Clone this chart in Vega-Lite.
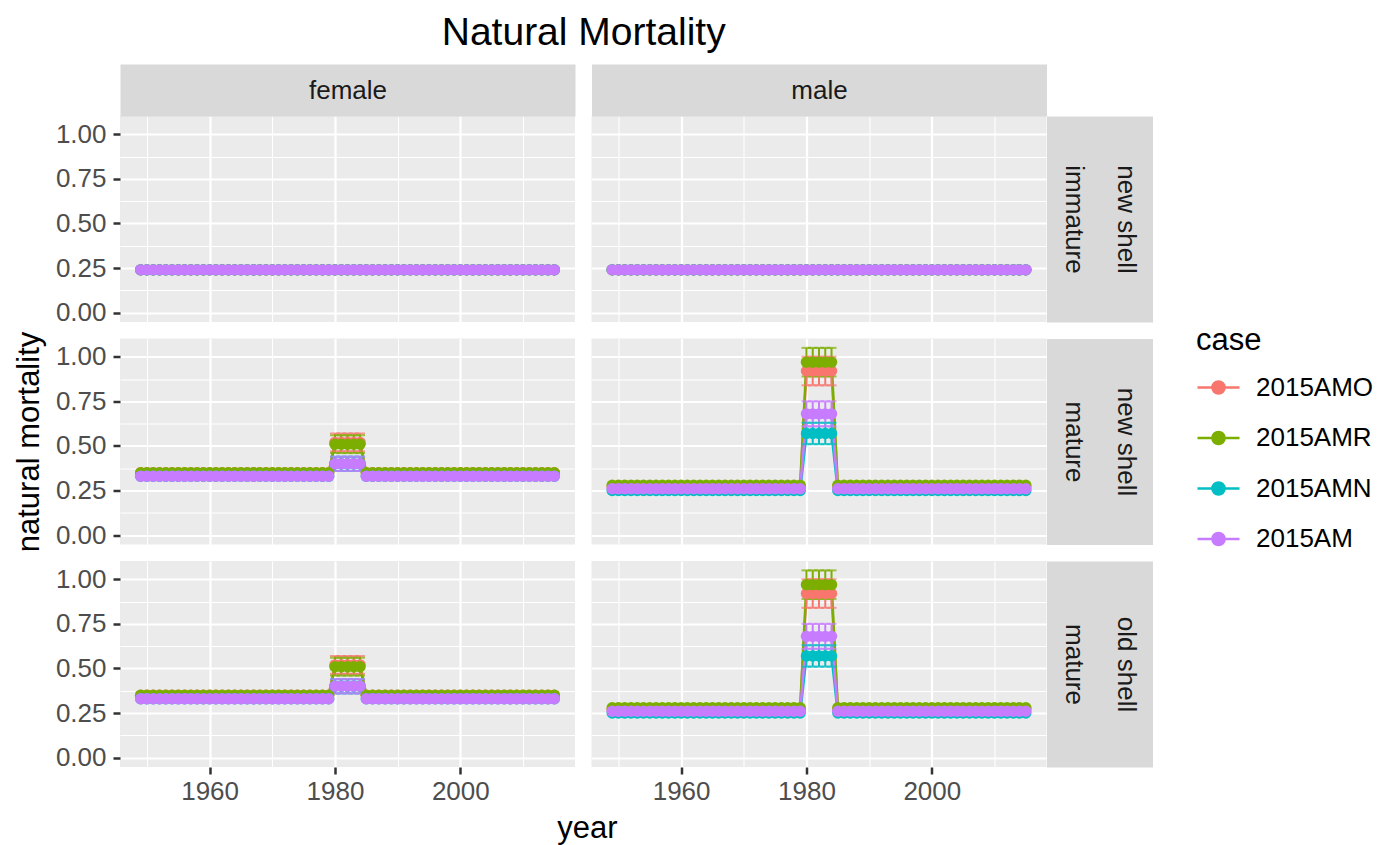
{
"$schema":"https://vega.github.io/schema/vega-lite/v6.json",
"title":{"text":"Natural Mortality","fontSize":39,"fontWeight":"normal","font":"Liberation Sans","color":"#000000","anchor":"middle","offset":24,"dx":-110},
"padding":{"left":13,"top":14,"right":0,"bottom":5},
"background":"white",
"datasets":{
"f_imm":[
{"year":1949,"2015AMO":0.24,"2015AMR":0.24,"2015AMN":0.24,"2015AM":0.24},{"year":1950,"2015AMO":0.24,"2015AMR":0.24,"2015AMN":0.24,"2015AM":0.24},{"year":1951,"2015AMO":0.24,"2015AMR":0.24,"2015AMN":0.24,"2015AM":0.24},{"year":1952,"2015AMO":0.24,"2015AMR":0.24,"2015AMN":0.24,"2015AM":0.24},{"year":1953,"2015AMO":0.24,"2015AMR":0.24,"2015AMN":0.24,"2015AM":0.24},{"year":1954,"2015AMO":0.24,"2015AMR":0.24,"2015AMN":0.24,"2015AM":0.24},{"year":1955,"2015AMO":0.24,"2015AMR":0.24,"2015AMN":0.24,"2015AM":0.24},{"year":1956,"2015AMO":0.24,"2015AMR":0.24,"2015AMN":0.24,"2015AM":0.24},{"year":1957,"2015AMO":0.24,"2015AMR":0.24,"2015AMN":0.24,"2015AM":0.24},{"year":1958,"2015AMO":0.24,"2015AMR":0.24,"2015AMN":0.24,"2015AM":0.24},{"year":1959,"2015AMO":0.24,"2015AMR":0.24,"2015AMN":0.24,"2015AM":0.24},{"year":1960,"2015AMO":0.24,"2015AMR":0.24,"2015AMN":0.24,"2015AM":0.24},{"year":1961,"2015AMO":0.24,"2015AMR":0.24,"2015AMN":0.24,"2015AM":0.24},{"year":1962,"2015AMO":0.24,"2015AMR":0.24,"2015AMN":0.24,"2015AM":0.24},{"year":1963,"2015AMO":0.24,"2015AMR":0.24,"2015AMN":0.24,"2015AM":0.24},{"year":1964,"2015AMO":0.24,"2015AMR":0.24,"2015AMN":0.24,"2015AM":0.24},{"year":1965,"2015AMO":0.24,"2015AMR":0.24,"2015AMN":0.24,"2015AM":0.24},{"year":1966,"2015AMO":0.24,"2015AMR":0.24,"2015AMN":0.24,"2015AM":0.24},{"year":1967,"2015AMO":0.24,"2015AMR":0.24,"2015AMN":0.24,"2015AM":0.24},{"year":1968,"2015AMO":0.24,"2015AMR":0.24,"2015AMN":0.24,"2015AM":0.24},{"year":1969,"2015AMO":0.24,"2015AMR":0.24,"2015AMN":0.24,"2015AM":0.24},{"year":1970,"2015AMO":0.24,"2015AMR":0.24,"2015AMN":0.24,"2015AM":0.24},{"year":1971,"2015AMO":0.24,"2015AMR":0.24,"2015AMN":0.24,"2015AM":0.24},{"year":1972,"2015AMO":0.24,"2015AMR":0.24,"2015AMN":0.24,"2015AM":0.24},{"year":1973,"2015AMO":0.24,"2015AMR":0.24,"2015AMN":0.24,"2015AM":0.24},{"year":1974,"2015AMO":0.24,"2015AMR":0.24,"2015AMN":0.24,"2015AM":0.24},{"year":1975,"2015AMO":0.24,"2015AMR":0.24,"2015AMN":0.24,"2015AM":0.24},{"year":1976,"2015AMO":0.24,"2015AMR":0.24,"2015AMN":0.24,"2015AM":0.24},{"year":1977,"2015AMO":0.24,"2015AMR":0.24,"2015AMN":0.24,"2015AM":0.24},{"year":1978,"2015AMO":0.24,"2015AMR":0.24,"2015AMN":0.24,"2015AM":0.24},{"year":1979,"2015AMO":0.24,"2015AMR":0.24,"2015AMN":0.24,"2015AM":0.24},{"year":1980,"2015AMO":0.24,"2015AMR":0.24,"2015AMN":0.24,"2015AM":0.24},{"year":1981,"2015AMO":0.24,"2015AMR":0.24,"2015AMN":0.24,"2015AM":0.24},{"year":1982,"2015AMO":0.24,"2015AMR":0.24,"2015AMN":0.24,"2015AM":0.24},{"year":1983,"2015AMO":0.24,"2015AMR":0.24,"2015AMN":0.24,"2015AM":0.24},{"year":1984,"2015AMO":0.24,"2015AMR":0.24,"2015AMN":0.24,"2015AM":0.24},{"year":1985,"2015AMO":0.24,"2015AMR":0.24,"2015AMN":0.24,"2015AM":0.24},{"year":1986,"2015AMO":0.24,"2015AMR":0.24,"2015AMN":0.24,"2015AM":0.24},{"year":1987,"2015AMO":0.24,"2015AMR":0.24,"2015AMN":0.24,"2015AM":0.24},{"year":1988,"2015AMO":0.24,"2015AMR":0.24,"2015AMN":0.24,"2015AM":0.24},{"year":1989,"2015AMO":0.24,"2015AMR":0.24,"2015AMN":0.24,"2015AM":0.24},{"year":1990,"2015AMO":0.24,"2015AMR":0.24,"2015AMN":0.24,"2015AM":0.24},{"year":1991,"2015AMO":0.24,"2015AMR":0.24,"2015AMN":0.24,"2015AM":0.24},{"year":1992,"2015AMO":0.24,"2015AMR":0.24,"2015AMN":0.24,"2015AM":0.24},{"year":1993,"2015AMO":0.24,"2015AMR":0.24,"2015AMN":0.24,"2015AM":0.24},{"year":1994,"2015AMO":0.24,"2015AMR":0.24,"2015AMN":0.24,"2015AM":0.24},{"year":1995,"2015AMO":0.24,"2015AMR":0.24,"2015AMN":0.24,"2015AM":0.24},{"year":1996,"2015AMO":0.24,"2015AMR":0.24,"2015AMN":0.24,"2015AM":0.24},{"year":1997,"2015AMO":0.24,"2015AMR":0.24,"2015AMN":0.24,"2015AM":0.24},{"year":1998,"2015AMO":0.24,"2015AMR":0.24,"2015AMN":0.24,"2015AM":0.24},{"year":1999,"2015AMO":0.24,"2015AMR":0.24,"2015AMN":0.24,"2015AM":0.24},{"year":2000,"2015AMO":0.24,"2015AMR":0.24,"2015AMN":0.24,"2015AM":0.24},{"year":2001,"2015AMO":0.24,"2015AMR":0.24,"2015AMN":0.24,"2015AM":0.24},{"year":2002,"2015AMO":0.24,"2015AMR":0.24,"2015AMN":0.24,"2015AM":0.24},{"year":2003,"2015AMO":0.24,"2015AMR":0.24,"2015AMN":0.24,"2015AM":0.24},{"year":2004,"2015AMO":0.24,"2015AMR":0.24,"2015AMN":0.24,"2015AM":0.24},{"year":2005,"2015AMO":0.24,"2015AMR":0.24,"2015AMN":0.24,"2015AM":0.24},{"year":2006,"2015AMO":0.24,"2015AMR":0.24,"2015AMN":0.24,"2015AM":0.24},{"year":2007,"2015AMO":0.24,"2015AMR":0.24,"2015AMN":0.24,"2015AM":0.24},{"year":2008,"2015AMO":0.24,"2015AMR":0.24,"2015AMN":0.24,"2015AM":0.24},{"year":2009,"2015AMO":0.24,"2015AMR":0.24,"2015AMN":0.24,"2015AM":0.24},{"year":2010,"2015AMO":0.24,"2015AMR":0.24,"2015AMN":0.24,"2015AM":0.24},{"year":2011,"2015AMO":0.24,"2015AMR":0.24,"2015AMN":0.24,"2015AM":0.24},{"year":2012,"2015AMO":0.24,"2015AMR":0.24,"2015AMN":0.24,"2015AM":0.24},{"year":2013,"2015AMO":0.24,"2015AMR":0.24,"2015AMN":0.24,"2015AM":0.24},{"year":2014,"2015AMO":0.24,"2015AMR":0.24,"2015AMN":0.24,"2015AM":0.24},{"year":2015,"2015AMO":0.24,"2015AMR":0.24,"2015AMN":0.24,"2015AM":0.24}],
"m_imm":[
{"year":1949,"2015AMO":0.24,"2015AMR":0.24,"2015AMN":0.24,"2015AM":0.24},{"year":1950,"2015AMO":0.24,"2015AMR":0.24,"2015AMN":0.24,"2015AM":0.24},{"year":1951,"2015AMO":0.24,"2015AMR":0.24,"2015AMN":0.24,"2015AM":0.24},{"year":1952,"2015AMO":0.24,"2015AMR":0.24,"2015AMN":0.24,"2015AM":0.24},{"year":1953,"2015AMO":0.24,"2015AMR":0.24,"2015AMN":0.24,"2015AM":0.24},{"year":1954,"2015AMO":0.24,"2015AMR":0.24,"2015AMN":0.24,"2015AM":0.24},{"year":1955,"2015AMO":0.24,"2015AMR":0.24,"2015AMN":0.24,"2015AM":0.24},{"year":1956,"2015AMO":0.24,"2015AMR":0.24,"2015AMN":0.24,"2015AM":0.24},{"year":1957,"2015AMO":0.24,"2015AMR":0.24,"2015AMN":0.24,"2015AM":0.24},{"year":1958,"2015AMO":0.24,"2015AMR":0.24,"2015AMN":0.24,"2015AM":0.24},{"year":1959,"2015AMO":0.24,"2015AMR":0.24,"2015AMN":0.24,"2015AM":0.24},{"year":1960,"2015AMO":0.24,"2015AMR":0.24,"2015AMN":0.24,"2015AM":0.24},{"year":1961,"2015AMO":0.24,"2015AMR":0.24,"2015AMN":0.24,"2015AM":0.24},{"year":1962,"2015AMO":0.24,"2015AMR":0.24,"2015AMN":0.24,"2015AM":0.24},{"year":1963,"2015AMO":0.24,"2015AMR":0.24,"2015AMN":0.24,"2015AM":0.24},{"year":1964,"2015AMO":0.24,"2015AMR":0.24,"2015AMN":0.24,"2015AM":0.24},{"year":1965,"2015AMO":0.24,"2015AMR":0.24,"2015AMN":0.24,"2015AM":0.24},{"year":1966,"2015AMO":0.24,"2015AMR":0.24,"2015AMN":0.24,"2015AM":0.24},{"year":1967,"2015AMO":0.24,"2015AMR":0.24,"2015AMN":0.24,"2015AM":0.24},{"year":1968,"2015AMO":0.24,"2015AMR":0.24,"2015AMN":0.24,"2015AM":0.24},{"year":1969,"2015AMO":0.24,"2015AMR":0.24,"2015AMN":0.24,"2015AM":0.24},{"year":1970,"2015AMO":0.24,"2015AMR":0.24,"2015AMN":0.24,"2015AM":0.24},{"year":1971,"2015AMO":0.24,"2015AMR":0.24,"2015AMN":0.24,"2015AM":0.24},{"year":1972,"2015AMO":0.24,"2015AMR":0.24,"2015AMN":0.24,"2015AM":0.24},{"year":1973,"2015AMO":0.24,"2015AMR":0.24,"2015AMN":0.24,"2015AM":0.24},{"year":1974,"2015AMO":0.24,"2015AMR":0.24,"2015AMN":0.24,"2015AM":0.24},{"year":1975,"2015AMO":0.24,"2015AMR":0.24,"2015AMN":0.24,"2015AM":0.24},{"year":1976,"2015AMO":0.24,"2015AMR":0.24,"2015AMN":0.24,"2015AM":0.24},{"year":1977,"2015AMO":0.24,"2015AMR":0.24,"2015AMN":0.24,"2015AM":0.24},{"year":1978,"2015AMO":0.24,"2015AMR":0.24,"2015AMN":0.24,"2015AM":0.24},{"year":1979,"2015AMO":0.24,"2015AMR":0.24,"2015AMN":0.24,"2015AM":0.24},{"year":1980,"2015AMO":0.24,"2015AMR":0.24,"2015AMN":0.24,"2015AM":0.24},{"year":1981,"2015AMO":0.24,"2015AMR":0.24,"2015AMN":0.24,"2015AM":0.24},{"year":1982,"2015AMO":0.24,"2015AMR":0.24,"2015AMN":0.24,"2015AM":0.24},{"year":1983,"2015AMO":0.24,"2015AMR":0.24,"2015AMN":0.24,"2015AM":0.24},{"year":1984,"2015AMO":0.24,"2015AMR":0.24,"2015AMN":0.24,"2015AM":0.24},{"year":1985,"2015AMO":0.24,"2015AMR":0.24,"2015AMN":0.24,"2015AM":0.24},{"year":1986,"2015AMO":0.24,"2015AMR":0.24,"2015AMN":0.24,"2015AM":0.24},{"year":1987,"2015AMO":0.24,"2015AMR":0.24,"2015AMN":0.24,"2015AM":0.24},{"year":1988,"2015AMO":0.24,"2015AMR":0.24,"2015AMN":0.24,"2015AM":0.24},{"year":1989,"2015AMO":0.24,"2015AMR":0.24,"2015AMN":0.24,"2015AM":0.24},{"year":1990,"2015AMO":0.24,"2015AMR":0.24,"2015AMN":0.24,"2015AM":0.24},{"year":1991,"2015AMO":0.24,"2015AMR":0.24,"2015AMN":0.24,"2015AM":0.24},{"year":1992,"2015AMO":0.24,"2015AMR":0.24,"2015AMN":0.24,"2015AM":0.24},{"year":1993,"2015AMO":0.24,"2015AMR":0.24,"2015AMN":0.24,"2015AM":0.24},{"year":1994,"2015AMO":0.24,"2015AMR":0.24,"2015AMN":0.24,"2015AM":0.24},{"year":1995,"2015AMO":0.24,"2015AMR":0.24,"2015AMN":0.24,"2015AM":0.24},{"year":1996,"2015AMO":0.24,"2015AMR":0.24,"2015AMN":0.24,"2015AM":0.24},{"year":1997,"2015AMO":0.24,"2015AMR":0.24,"2015AMN":0.24,"2015AM":0.24},{"year":1998,"2015AMO":0.24,"2015AMR":0.24,"2015AMN":0.24,"2015AM":0.24},{"year":1999,"2015AMO":0.24,"2015AMR":0.24,"2015AMN":0.24,"2015AM":0.24},{"year":2000,"2015AMO":0.24,"2015AMR":0.24,"2015AMN":0.24,"2015AM":0.24},{"year":2001,"2015AMO":0.24,"2015AMR":0.24,"2015AMN":0.24,"2015AM":0.24},{"year":2002,"2015AMO":0.24,"2015AMR":0.24,"2015AMN":0.24,"2015AM":0.24},{"year":2003,"2015AMO":0.24,"2015AMR":0.24,"2015AMN":0.24,"2015AM":0.24},{"year":2004,"2015AMO":0.24,"2015AMR":0.24,"2015AMN":0.24,"2015AM":0.24},{"year":2005,"2015AMO":0.24,"2015AMR":0.24,"2015AMN":0.24,"2015AM":0.24},{"year":2006,"2015AMO":0.24,"2015AMR":0.24,"2015AMN":0.24,"2015AM":0.24},{"year":2007,"2015AMO":0.24,"2015AMR":0.24,"2015AMN":0.24,"2015AM":0.24},{"year":2008,"2015AMO":0.24,"2015AMR":0.24,"2015AMN":0.24,"2015AM":0.24},{"year":2009,"2015AMO":0.24,"2015AMR":0.24,"2015AMN":0.24,"2015AM":0.24},{"year":2010,"2015AMO":0.24,"2015AMR":0.24,"2015AMN":0.24,"2015AM":0.24},{"year":2011,"2015AMO":0.24,"2015AMR":0.24,"2015AMN":0.24,"2015AM":0.24},{"year":2012,"2015AMO":0.24,"2015AMR":0.24,"2015AMN":0.24,"2015AM":0.24},{"year":2013,"2015AMO":0.24,"2015AMR":0.24,"2015AMN":0.24,"2015AM":0.24},{"year":2014,"2015AMO":0.24,"2015AMR":0.24,"2015AMN":0.24,"2015AM":0.24},{"year":2015,"2015AMO":0.24,"2015AMR":0.24,"2015AMN":0.24,"2015AM":0.24}],
"f_mns":[
{"year":1949,"2015AMO":0.35,"2015AMR":0.35,"2015AMN":0.33,"2015AM":0.33},{"year":1950,"2015AMO":0.35,"2015AMR":0.35,"2015AMN":0.33,"2015AM":0.33},{"year":1951,"2015AMO":0.35,"2015AMR":0.35,"2015AMN":0.33,"2015AM":0.33},{"year":1952,"2015AMO":0.35,"2015AMR":0.35,"2015AMN":0.33,"2015AM":0.33},{"year":1953,"2015AMO":0.35,"2015AMR":0.35,"2015AMN":0.33,"2015AM":0.33},{"year":1954,"2015AMO":0.35,"2015AMR":0.35,"2015AMN":0.33,"2015AM":0.33},{"year":1955,"2015AMO":0.35,"2015AMR":0.35,"2015AMN":0.33,"2015AM":0.33},{"year":1956,"2015AMO":0.35,"2015AMR":0.35,"2015AMN":0.33,"2015AM":0.33},{"year":1957,"2015AMO":0.35,"2015AMR":0.35,"2015AMN":0.33,"2015AM":0.33},{"year":1958,"2015AMO":0.35,"2015AMR":0.35,"2015AMN":0.33,"2015AM":0.33},{"year":1959,"2015AMO":0.35,"2015AMR":0.35,"2015AMN":0.33,"2015AM":0.33},{"year":1960,"2015AMO":0.35,"2015AMR":0.35,"2015AMN":0.33,"2015AM":0.33},{"year":1961,"2015AMO":0.35,"2015AMR":0.35,"2015AMN":0.33,"2015AM":0.33},{"year":1962,"2015AMO":0.35,"2015AMR":0.35,"2015AMN":0.33,"2015AM":0.33},{"year":1963,"2015AMO":0.35,"2015AMR":0.35,"2015AMN":0.33,"2015AM":0.33},{"year":1964,"2015AMO":0.35,"2015AMR":0.35,"2015AMN":0.33,"2015AM":0.33},{"year":1965,"2015AMO":0.35,"2015AMR":0.35,"2015AMN":0.33,"2015AM":0.33},{"year":1966,"2015AMO":0.35,"2015AMR":0.35,"2015AMN":0.33,"2015AM":0.33},{"year":1967,"2015AMO":0.35,"2015AMR":0.35,"2015AMN":0.33,"2015AM":0.33},{"year":1968,"2015AMO":0.35,"2015AMR":0.35,"2015AMN":0.33,"2015AM":0.33},{"year":1969,"2015AMO":0.35,"2015AMR":0.35,"2015AMN":0.33,"2015AM":0.33},{"year":1970,"2015AMO":0.35,"2015AMR":0.35,"2015AMN":0.33,"2015AM":0.33},{"year":1971,"2015AMO":0.35,"2015AMR":0.35,"2015AMN":0.33,"2015AM":0.33},{"year":1972,"2015AMO":0.35,"2015AMR":0.35,"2015AMN":0.33,"2015AM":0.33},{"year":1973,"2015AMO":0.35,"2015AMR":0.35,"2015AMN":0.33,"2015AM":0.33},{"year":1974,"2015AMO":0.35,"2015AMR":0.35,"2015AMN":0.33,"2015AM":0.33},{"year":1975,"2015AMO":0.35,"2015AMR":0.35,"2015AMN":0.33,"2015AM":0.33},{"year":1976,"2015AMO":0.35,"2015AMR":0.35,"2015AMN":0.33,"2015AM":0.33},{"year":1977,"2015AMO":0.35,"2015AMR":0.35,"2015AMN":0.33,"2015AM":0.33},{"year":1978,"2015AMO":0.35,"2015AMR":0.35,"2015AMN":0.33,"2015AM":0.33},{"year":1979,"2015AMO":0.35,"2015AMR":0.35,"2015AMN":0.33,"2015AM":0.33},{"year":1980,"2015AMO":0.52,"2015AMR":0.51,"2015AMN":0.4,"2015AM":0.4},{"year":1981,"2015AMO":0.52,"2015AMR":0.51,"2015AMN":0.4,"2015AM":0.4},{"year":1982,"2015AMO":0.52,"2015AMR":0.51,"2015AMN":0.4,"2015AM":0.4},{"year":1983,"2015AMO":0.52,"2015AMR":0.51,"2015AMN":0.4,"2015AM":0.4},{"year":1984,"2015AMO":0.52,"2015AMR":0.51,"2015AMN":0.4,"2015AM":0.4},{"year":1985,"2015AMO":0.35,"2015AMR":0.35,"2015AMN":0.33,"2015AM":0.33},{"year":1986,"2015AMO":0.35,"2015AMR":0.35,"2015AMN":0.33,"2015AM":0.33},{"year":1987,"2015AMO":0.35,"2015AMR":0.35,"2015AMN":0.33,"2015AM":0.33},{"year":1988,"2015AMO":0.35,"2015AMR":0.35,"2015AMN":0.33,"2015AM":0.33},{"year":1989,"2015AMO":0.35,"2015AMR":0.35,"2015AMN":0.33,"2015AM":0.33},{"year":1990,"2015AMO":0.35,"2015AMR":0.35,"2015AMN":0.33,"2015AM":0.33},{"year":1991,"2015AMO":0.35,"2015AMR":0.35,"2015AMN":0.33,"2015AM":0.33},{"year":1992,"2015AMO":0.35,"2015AMR":0.35,"2015AMN":0.33,"2015AM":0.33},{"year":1993,"2015AMO":0.35,"2015AMR":0.35,"2015AMN":0.33,"2015AM":0.33},{"year":1994,"2015AMO":0.35,"2015AMR":0.35,"2015AMN":0.33,"2015AM":0.33},{"year":1995,"2015AMO":0.35,"2015AMR":0.35,"2015AMN":0.33,"2015AM":0.33},{"year":1996,"2015AMO":0.35,"2015AMR":0.35,"2015AMN":0.33,"2015AM":0.33},{"year":1997,"2015AMO":0.35,"2015AMR":0.35,"2015AMN":0.33,"2015AM":0.33},{"year":1998,"2015AMO":0.35,"2015AMR":0.35,"2015AMN":0.33,"2015AM":0.33},{"year":1999,"2015AMO":0.35,"2015AMR":0.35,"2015AMN":0.33,"2015AM":0.33},{"year":2000,"2015AMO":0.35,"2015AMR":0.35,"2015AMN":0.33,"2015AM":0.33},{"year":2001,"2015AMO":0.35,"2015AMR":0.35,"2015AMN":0.33,"2015AM":0.33},{"year":2002,"2015AMO":0.35,"2015AMR":0.35,"2015AMN":0.33,"2015AM":0.33},{"year":2003,"2015AMO":0.35,"2015AMR":0.35,"2015AMN":0.33,"2015AM":0.33},{"year":2004,"2015AMO":0.35,"2015AMR":0.35,"2015AMN":0.33,"2015AM":0.33},{"year":2005,"2015AMO":0.35,"2015AMR":0.35,"2015AMN":0.33,"2015AM":0.33},{"year":2006,"2015AMO":0.35,"2015AMR":0.35,"2015AMN":0.33,"2015AM":0.33},{"year":2007,"2015AMO":0.35,"2015AMR":0.35,"2015AMN":0.33,"2015AM":0.33},{"year":2008,"2015AMO":0.35,"2015AMR":0.35,"2015AMN":0.33,"2015AM":0.33},{"year":2009,"2015AMO":0.35,"2015AMR":0.35,"2015AMN":0.33,"2015AM":0.33},{"year":2010,"2015AMO":0.35,"2015AMR":0.35,"2015AMN":0.33,"2015AM":0.33},{"year":2011,"2015AMO":0.35,"2015AMR":0.35,"2015AMN":0.33,"2015AM":0.33},{"year":2012,"2015AMO":0.35,"2015AMR":0.35,"2015AMN":0.33,"2015AM":0.33},{"year":2013,"2015AMO":0.35,"2015AMR":0.35,"2015AMN":0.33,"2015AM":0.33},{"year":2014,"2015AMO":0.35,"2015AMR":0.35,"2015AMN":0.33,"2015AM":0.33},{"year":2015,"2015AMO":0.35,"2015AMR":0.35,"2015AMN":0.33,"2015AM":0.33}],
"f_mos":[
{"year":1949,"2015AMO":0.35,"2015AMR":0.35,"2015AMN":0.33,"2015AM":0.33},{"year":1950,"2015AMO":0.35,"2015AMR":0.35,"2015AMN":0.33,"2015AM":0.33},{"year":1951,"2015AMO":0.35,"2015AMR":0.35,"2015AMN":0.33,"2015AM":0.33},{"year":1952,"2015AMO":0.35,"2015AMR":0.35,"2015AMN":0.33,"2015AM":0.33},{"year":1953,"2015AMO":0.35,"2015AMR":0.35,"2015AMN":0.33,"2015AM":0.33},{"year":1954,"2015AMO":0.35,"2015AMR":0.35,"2015AMN":0.33,"2015AM":0.33},{"year":1955,"2015AMO":0.35,"2015AMR":0.35,"2015AMN":0.33,"2015AM":0.33},{"year":1956,"2015AMO":0.35,"2015AMR":0.35,"2015AMN":0.33,"2015AM":0.33},{"year":1957,"2015AMO":0.35,"2015AMR":0.35,"2015AMN":0.33,"2015AM":0.33},{"year":1958,"2015AMO":0.35,"2015AMR":0.35,"2015AMN":0.33,"2015AM":0.33},{"year":1959,"2015AMO":0.35,"2015AMR":0.35,"2015AMN":0.33,"2015AM":0.33},{"year":1960,"2015AMO":0.35,"2015AMR":0.35,"2015AMN":0.33,"2015AM":0.33},{"year":1961,"2015AMO":0.35,"2015AMR":0.35,"2015AMN":0.33,"2015AM":0.33},{"year":1962,"2015AMO":0.35,"2015AMR":0.35,"2015AMN":0.33,"2015AM":0.33},{"year":1963,"2015AMO":0.35,"2015AMR":0.35,"2015AMN":0.33,"2015AM":0.33},{"year":1964,"2015AMO":0.35,"2015AMR":0.35,"2015AMN":0.33,"2015AM":0.33},{"year":1965,"2015AMO":0.35,"2015AMR":0.35,"2015AMN":0.33,"2015AM":0.33},{"year":1966,"2015AMO":0.35,"2015AMR":0.35,"2015AMN":0.33,"2015AM":0.33},{"year":1967,"2015AMO":0.35,"2015AMR":0.35,"2015AMN":0.33,"2015AM":0.33},{"year":1968,"2015AMO":0.35,"2015AMR":0.35,"2015AMN":0.33,"2015AM":0.33},{"year":1969,"2015AMO":0.35,"2015AMR":0.35,"2015AMN":0.33,"2015AM":0.33},{"year":1970,"2015AMO":0.35,"2015AMR":0.35,"2015AMN":0.33,"2015AM":0.33},{"year":1971,"2015AMO":0.35,"2015AMR":0.35,"2015AMN":0.33,"2015AM":0.33},{"year":1972,"2015AMO":0.35,"2015AMR":0.35,"2015AMN":0.33,"2015AM":0.33},{"year":1973,"2015AMO":0.35,"2015AMR":0.35,"2015AMN":0.33,"2015AM":0.33},{"year":1974,"2015AMO":0.35,"2015AMR":0.35,"2015AMN":0.33,"2015AM":0.33},{"year":1975,"2015AMO":0.35,"2015AMR":0.35,"2015AMN":0.33,"2015AM":0.33},{"year":1976,"2015AMO":0.35,"2015AMR":0.35,"2015AMN":0.33,"2015AM":0.33},{"year":1977,"2015AMO":0.35,"2015AMR":0.35,"2015AMN":0.33,"2015AM":0.33},{"year":1978,"2015AMO":0.35,"2015AMR":0.35,"2015AMN":0.33,"2015AM":0.33},{"year":1979,"2015AMO":0.35,"2015AMR":0.35,"2015AMN":0.33,"2015AM":0.33},{"year":1980,"2015AMO":0.52,"2015AMR":0.51,"2015AMN":0.4,"2015AM":0.4},{"year":1981,"2015AMO":0.52,"2015AMR":0.51,"2015AMN":0.4,"2015AM":0.4},{"year":1982,"2015AMO":0.52,"2015AMR":0.51,"2015AMN":0.4,"2015AM":0.4},{"year":1983,"2015AMO":0.52,"2015AMR":0.51,"2015AMN":0.4,"2015AM":0.4},{"year":1984,"2015AMO":0.52,"2015AMR":0.51,"2015AMN":0.4,"2015AM":0.4},{"year":1985,"2015AMO":0.35,"2015AMR":0.35,"2015AMN":0.33,"2015AM":0.33},{"year":1986,"2015AMO":0.35,"2015AMR":0.35,"2015AMN":0.33,"2015AM":0.33},{"year":1987,"2015AMO":0.35,"2015AMR":0.35,"2015AMN":0.33,"2015AM":0.33},{"year":1988,"2015AMO":0.35,"2015AMR":0.35,"2015AMN":0.33,"2015AM":0.33},{"year":1989,"2015AMO":0.35,"2015AMR":0.35,"2015AMN":0.33,"2015AM":0.33},{"year":1990,"2015AMO":0.35,"2015AMR":0.35,"2015AMN":0.33,"2015AM":0.33},{"year":1991,"2015AMO":0.35,"2015AMR":0.35,"2015AMN":0.33,"2015AM":0.33},{"year":1992,"2015AMO":0.35,"2015AMR":0.35,"2015AMN":0.33,"2015AM":0.33},{"year":1993,"2015AMO":0.35,"2015AMR":0.35,"2015AMN":0.33,"2015AM":0.33},{"year":1994,"2015AMO":0.35,"2015AMR":0.35,"2015AMN":0.33,"2015AM":0.33},{"year":1995,"2015AMO":0.35,"2015AMR":0.35,"2015AMN":0.33,"2015AM":0.33},{"year":1996,"2015AMO":0.35,"2015AMR":0.35,"2015AMN":0.33,"2015AM":0.33},{"year":1997,"2015AMO":0.35,"2015AMR":0.35,"2015AMN":0.33,"2015AM":0.33},{"year":1998,"2015AMO":0.35,"2015AMR":0.35,"2015AMN":0.33,"2015AM":0.33},{"year":1999,"2015AMO":0.35,"2015AMR":0.35,"2015AMN":0.33,"2015AM":0.33},{"year":2000,"2015AMO":0.35,"2015AMR":0.35,"2015AMN":0.33,"2015AM":0.33},{"year":2001,"2015AMO":0.35,"2015AMR":0.35,"2015AMN":0.33,"2015AM":0.33},{"year":2002,"2015AMO":0.35,"2015AMR":0.35,"2015AMN":0.33,"2015AM":0.33},{"year":2003,"2015AMO":0.35,"2015AMR":0.35,"2015AMN":0.33,"2015AM":0.33},{"year":2004,"2015AMO":0.35,"2015AMR":0.35,"2015AMN":0.33,"2015AM":0.33},{"year":2005,"2015AMO":0.35,"2015AMR":0.35,"2015AMN":0.33,"2015AM":0.33},{"year":2006,"2015AMO":0.35,"2015AMR":0.35,"2015AMN":0.33,"2015AM":0.33},{"year":2007,"2015AMO":0.35,"2015AMR":0.35,"2015AMN":0.33,"2015AM":0.33},{"year":2008,"2015AMO":0.35,"2015AMR":0.35,"2015AMN":0.33,"2015AM":0.33},{"year":2009,"2015AMO":0.35,"2015AMR":0.35,"2015AMN":0.33,"2015AM":0.33},{"year":2010,"2015AMO":0.35,"2015AMR":0.35,"2015AMN":0.33,"2015AM":0.33},{"year":2011,"2015AMO":0.35,"2015AMR":0.35,"2015AMN":0.33,"2015AM":0.33},{"year":2012,"2015AMO":0.35,"2015AMR":0.35,"2015AMN":0.33,"2015AM":0.33},{"year":2013,"2015AMO":0.35,"2015AMR":0.35,"2015AMN":0.33,"2015AM":0.33},{"year":2014,"2015AMO":0.35,"2015AMR":0.35,"2015AMN":0.33,"2015AM":0.33},{"year":2015,"2015AMO":0.35,"2015AMR":0.35,"2015AMN":0.33,"2015AM":0.33}],
"m_mns":[
{"year":1949,"2015AMO":0.27,"2015AMR":0.28,"2015AMN":0.25,"2015AM":0.26},{"year":1950,"2015AMO":0.27,"2015AMR":0.28,"2015AMN":0.25,"2015AM":0.26},{"year":1951,"2015AMO":0.27,"2015AMR":0.28,"2015AMN":0.25,"2015AM":0.26},{"year":1952,"2015AMO":0.27,"2015AMR":0.28,"2015AMN":0.25,"2015AM":0.26},{"year":1953,"2015AMO":0.27,"2015AMR":0.28,"2015AMN":0.25,"2015AM":0.26},{"year":1954,"2015AMO":0.27,"2015AMR":0.28,"2015AMN":0.25,"2015AM":0.26},{"year":1955,"2015AMO":0.27,"2015AMR":0.28,"2015AMN":0.25,"2015AM":0.26},{"year":1956,"2015AMO":0.27,"2015AMR":0.28,"2015AMN":0.25,"2015AM":0.26},{"year":1957,"2015AMO":0.27,"2015AMR":0.28,"2015AMN":0.25,"2015AM":0.26},{"year":1958,"2015AMO":0.27,"2015AMR":0.28,"2015AMN":0.25,"2015AM":0.26},{"year":1959,"2015AMO":0.27,"2015AMR":0.28,"2015AMN":0.25,"2015AM":0.26},{"year":1960,"2015AMO":0.27,"2015AMR":0.28,"2015AMN":0.25,"2015AM":0.26},{"year":1961,"2015AMO":0.27,"2015AMR":0.28,"2015AMN":0.25,"2015AM":0.26},{"year":1962,"2015AMO":0.27,"2015AMR":0.28,"2015AMN":0.25,"2015AM":0.26},{"year":1963,"2015AMO":0.27,"2015AMR":0.28,"2015AMN":0.25,"2015AM":0.26},{"year":1964,"2015AMO":0.27,"2015AMR":0.28,"2015AMN":0.25,"2015AM":0.26},{"year":1965,"2015AMO":0.27,"2015AMR":0.28,"2015AMN":0.25,"2015AM":0.26},{"year":1966,"2015AMO":0.27,"2015AMR":0.28,"2015AMN":0.25,"2015AM":0.26},{"year":1967,"2015AMO":0.27,"2015AMR":0.28,"2015AMN":0.25,"2015AM":0.26},{"year":1968,"2015AMO":0.27,"2015AMR":0.28,"2015AMN":0.25,"2015AM":0.26},{"year":1969,"2015AMO":0.27,"2015AMR":0.28,"2015AMN":0.25,"2015AM":0.26},{"year":1970,"2015AMO":0.27,"2015AMR":0.28,"2015AMN":0.25,"2015AM":0.26},{"year":1971,"2015AMO":0.27,"2015AMR":0.28,"2015AMN":0.25,"2015AM":0.26},{"year":1972,"2015AMO":0.27,"2015AMR":0.28,"2015AMN":0.25,"2015AM":0.26},{"year":1973,"2015AMO":0.27,"2015AMR":0.28,"2015AMN":0.25,"2015AM":0.26},{"year":1974,"2015AMO":0.27,"2015AMR":0.28,"2015AMN":0.25,"2015AM":0.26},{"year":1975,"2015AMO":0.27,"2015AMR":0.28,"2015AMN":0.25,"2015AM":0.26},{"year":1976,"2015AMO":0.27,"2015AMR":0.28,"2015AMN":0.25,"2015AM":0.26},{"year":1977,"2015AMO":0.27,"2015AMR":0.28,"2015AMN":0.25,"2015AM":0.26},{"year":1978,"2015AMO":0.27,"2015AMR":0.28,"2015AMN":0.25,"2015AM":0.26},{"year":1979,"2015AMO":0.27,"2015AMR":0.28,"2015AMN":0.25,"2015AM":0.26},{"year":1980,"2015AMO":0.92,"2015AMR":0.97,"2015AMN":0.57,"2015AM":0.68},{"year":1981,"2015AMO":0.92,"2015AMR":0.97,"2015AMN":0.57,"2015AM":0.68},{"year":1982,"2015AMO":0.92,"2015AMR":0.97,"2015AMN":0.57,"2015AM":0.68},{"year":1983,"2015AMO":0.92,"2015AMR":0.97,"2015AMN":0.57,"2015AM":0.68},{"year":1984,"2015AMO":0.92,"2015AMR":0.97,"2015AMN":0.57,"2015AM":0.68},{"year":1985,"2015AMO":0.27,"2015AMR":0.28,"2015AMN":0.25,"2015AM":0.26},{"year":1986,"2015AMO":0.27,"2015AMR":0.28,"2015AMN":0.25,"2015AM":0.26},{"year":1987,"2015AMO":0.27,"2015AMR":0.28,"2015AMN":0.25,"2015AM":0.26},{"year":1988,"2015AMO":0.27,"2015AMR":0.28,"2015AMN":0.25,"2015AM":0.26},{"year":1989,"2015AMO":0.27,"2015AMR":0.28,"2015AMN":0.25,"2015AM":0.26},{"year":1990,"2015AMO":0.27,"2015AMR":0.28,"2015AMN":0.25,"2015AM":0.26},{"year":1991,"2015AMO":0.27,"2015AMR":0.28,"2015AMN":0.25,"2015AM":0.26},{"year":1992,"2015AMO":0.27,"2015AMR":0.28,"2015AMN":0.25,"2015AM":0.26},{"year":1993,"2015AMO":0.27,"2015AMR":0.28,"2015AMN":0.25,"2015AM":0.26},{"year":1994,"2015AMO":0.27,"2015AMR":0.28,"2015AMN":0.25,"2015AM":0.26},{"year":1995,"2015AMO":0.27,"2015AMR":0.28,"2015AMN":0.25,"2015AM":0.26},{"year":1996,"2015AMO":0.27,"2015AMR":0.28,"2015AMN":0.25,"2015AM":0.26},{"year":1997,"2015AMO":0.27,"2015AMR":0.28,"2015AMN":0.25,"2015AM":0.26},{"year":1998,"2015AMO":0.27,"2015AMR":0.28,"2015AMN":0.25,"2015AM":0.26},{"year":1999,"2015AMO":0.27,"2015AMR":0.28,"2015AMN":0.25,"2015AM":0.26},{"year":2000,"2015AMO":0.27,"2015AMR":0.28,"2015AMN":0.25,"2015AM":0.26},{"year":2001,"2015AMO":0.27,"2015AMR":0.28,"2015AMN":0.25,"2015AM":0.26},{"year":2002,"2015AMO":0.27,"2015AMR":0.28,"2015AMN":0.25,"2015AM":0.26},{"year":2003,"2015AMO":0.27,"2015AMR":0.28,"2015AMN":0.25,"2015AM":0.26},{"year":2004,"2015AMO":0.27,"2015AMR":0.28,"2015AMN":0.25,"2015AM":0.26},{"year":2005,"2015AMO":0.27,"2015AMR":0.28,"2015AMN":0.25,"2015AM":0.26},{"year":2006,"2015AMO":0.27,"2015AMR":0.28,"2015AMN":0.25,"2015AM":0.26},{"year":2007,"2015AMO":0.27,"2015AMR":0.28,"2015AMN":0.25,"2015AM":0.26},{"year":2008,"2015AMO":0.27,"2015AMR":0.28,"2015AMN":0.25,"2015AM":0.26},{"year":2009,"2015AMO":0.27,"2015AMR":0.28,"2015AMN":0.25,"2015AM":0.26},{"year":2010,"2015AMO":0.27,"2015AMR":0.28,"2015AMN":0.25,"2015AM":0.26},{"year":2011,"2015AMO":0.27,"2015AMR":0.28,"2015AMN":0.25,"2015AM":0.26},{"year":2012,"2015AMO":0.27,"2015AMR":0.28,"2015AMN":0.25,"2015AM":0.26},{"year":2013,"2015AMO":0.27,"2015AMR":0.28,"2015AMN":0.25,"2015AM":0.26},{"year":2014,"2015AMO":0.27,"2015AMR":0.28,"2015AMN":0.25,"2015AM":0.26},{"year":2015,"2015AMO":0.27,"2015AMR":0.28,"2015AMN":0.25,"2015AM":0.26}],
"m_mos":[
{"year":1949,"2015AMO":0.27,"2015AMR":0.28,"2015AMN":0.25,"2015AM":0.26},{"year":1950,"2015AMO":0.27,"2015AMR":0.28,"2015AMN":0.25,"2015AM":0.26},{"year":1951,"2015AMO":0.27,"2015AMR":0.28,"2015AMN":0.25,"2015AM":0.26},{"year":1952,"2015AMO":0.27,"2015AMR":0.28,"2015AMN":0.25,"2015AM":0.26},{"year":1953,"2015AMO":0.27,"2015AMR":0.28,"2015AMN":0.25,"2015AM":0.26},{"year":1954,"2015AMO":0.27,"2015AMR":0.28,"2015AMN":0.25,"2015AM":0.26},{"year":1955,"2015AMO":0.27,"2015AMR":0.28,"2015AMN":0.25,"2015AM":0.26},{"year":1956,"2015AMO":0.27,"2015AMR":0.28,"2015AMN":0.25,"2015AM":0.26},{"year":1957,"2015AMO":0.27,"2015AMR":0.28,"2015AMN":0.25,"2015AM":0.26},{"year":1958,"2015AMO":0.27,"2015AMR":0.28,"2015AMN":0.25,"2015AM":0.26},{"year":1959,"2015AMO":0.27,"2015AMR":0.28,"2015AMN":0.25,"2015AM":0.26},{"year":1960,"2015AMO":0.27,"2015AMR":0.28,"2015AMN":0.25,"2015AM":0.26},{"year":1961,"2015AMO":0.27,"2015AMR":0.28,"2015AMN":0.25,"2015AM":0.26},{"year":1962,"2015AMO":0.27,"2015AMR":0.28,"2015AMN":0.25,"2015AM":0.26},{"year":1963,"2015AMO":0.27,"2015AMR":0.28,"2015AMN":0.25,"2015AM":0.26},{"year":1964,"2015AMO":0.27,"2015AMR":0.28,"2015AMN":0.25,"2015AM":0.26},{"year":1965,"2015AMO":0.27,"2015AMR":0.28,"2015AMN":0.25,"2015AM":0.26},{"year":1966,"2015AMO":0.27,"2015AMR":0.28,"2015AMN":0.25,"2015AM":0.26},{"year":1967,"2015AMO":0.27,"2015AMR":0.28,"2015AMN":0.25,"2015AM":0.26},{"year":1968,"2015AMO":0.27,"2015AMR":0.28,"2015AMN":0.25,"2015AM":0.26},{"year":1969,"2015AMO":0.27,"2015AMR":0.28,"2015AMN":0.25,"2015AM":0.26},{"year":1970,"2015AMO":0.27,"2015AMR":0.28,"2015AMN":0.25,"2015AM":0.26},{"year":1971,"2015AMO":0.27,"2015AMR":0.28,"2015AMN":0.25,"2015AM":0.26},{"year":1972,"2015AMO":0.27,"2015AMR":0.28,"2015AMN":0.25,"2015AM":0.26},{"year":1973,"2015AMO":0.27,"2015AMR":0.28,"2015AMN":0.25,"2015AM":0.26},{"year":1974,"2015AMO":0.27,"2015AMR":0.28,"2015AMN":0.25,"2015AM":0.26},{"year":1975,"2015AMO":0.27,"2015AMR":0.28,"2015AMN":0.25,"2015AM":0.26},{"year":1976,"2015AMO":0.27,"2015AMR":0.28,"2015AMN":0.25,"2015AM":0.26},{"year":1977,"2015AMO":0.27,"2015AMR":0.28,"2015AMN":0.25,"2015AM":0.26},{"year":1978,"2015AMO":0.27,"2015AMR":0.28,"2015AMN":0.25,"2015AM":0.26},{"year":1979,"2015AMO":0.27,"2015AMR":0.28,"2015AMN":0.25,"2015AM":0.26},{"year":1980,"2015AMO":0.92,"2015AMR":0.97,"2015AMN":0.57,"2015AM":0.68},{"year":1981,"2015AMO":0.92,"2015AMR":0.97,"2015AMN":0.57,"2015AM":0.68},{"year":1982,"2015AMO":0.92,"2015AMR":0.97,"2015AMN":0.57,"2015AM":0.68},{"year":1983,"2015AMO":0.92,"2015AMR":0.97,"2015AMN":0.57,"2015AM":0.68},{"year":1984,"2015AMO":0.92,"2015AMR":0.97,"2015AMN":0.57,"2015AM":0.68},{"year":1985,"2015AMO":0.27,"2015AMR":0.28,"2015AMN":0.25,"2015AM":0.26},{"year":1986,"2015AMO":0.27,"2015AMR":0.28,"2015AMN":0.25,"2015AM":0.26},{"year":1987,"2015AMO":0.27,"2015AMR":0.28,"2015AMN":0.25,"2015AM":0.26},{"year":1988,"2015AMO":0.27,"2015AMR":0.28,"2015AMN":0.25,"2015AM":0.26},{"year":1989,"2015AMO":0.27,"2015AMR":0.28,"2015AMN":0.25,"2015AM":0.26},{"year":1990,"2015AMO":0.27,"2015AMR":0.28,"2015AMN":0.25,"2015AM":0.26},{"year":1991,"2015AMO":0.27,"2015AMR":0.28,"2015AMN":0.25,"2015AM":0.26},{"year":1992,"2015AMO":0.27,"2015AMR":0.28,"2015AMN":0.25,"2015AM":0.26},{"year":1993,"2015AMO":0.27,"2015AMR":0.28,"2015AMN":0.25,"2015AM":0.26},{"year":1994,"2015AMO":0.27,"2015AMR":0.28,"2015AMN":0.25,"2015AM":0.26},{"year":1995,"2015AMO":0.27,"2015AMR":0.28,"2015AMN":0.25,"2015AM":0.26},{"year":1996,"2015AMO":0.27,"2015AMR":0.28,"2015AMN":0.25,"2015AM":0.26},{"year":1997,"2015AMO":0.27,"2015AMR":0.28,"2015AMN":0.25,"2015AM":0.26},{"year":1998,"2015AMO":0.27,"2015AMR":0.28,"2015AMN":0.25,"2015AM":0.26},{"year":1999,"2015AMO":0.27,"2015AMR":0.28,"2015AMN":0.25,"2015AM":0.26},{"year":2000,"2015AMO":0.27,"2015AMR":0.28,"2015AMN":0.25,"2015AM":0.26},{"year":2001,"2015AMO":0.27,"2015AMR":0.28,"2015AMN":0.25,"2015AM":0.26},{"year":2002,"2015AMO":0.27,"2015AMR":0.28,"2015AMN":0.25,"2015AM":0.26},{"year":2003,"2015AMO":0.27,"2015AMR":0.28,"2015AMN":0.25,"2015AM":0.26},{"year":2004,"2015AMO":0.27,"2015AMR":0.28,"2015AMN":0.25,"2015AM":0.26},{"year":2005,"2015AMO":0.27,"2015AMR":0.28,"2015AMN":0.25,"2015AM":0.26},{"year":2006,"2015AMO":0.27,"2015AMR":0.28,"2015AMN":0.25,"2015AM":0.26},{"year":2007,"2015AMO":0.27,"2015AMR":0.28,"2015AMN":0.25,"2015AM":0.26},{"year":2008,"2015AMO":0.27,"2015AMR":0.28,"2015AMN":0.25,"2015AM":0.26},{"year":2009,"2015AMO":0.27,"2015AMR":0.28,"2015AMN":0.25,"2015AM":0.26},{"year":2010,"2015AMO":0.27,"2015AMR":0.28,"2015AMN":0.25,"2015AM":0.26},{"year":2011,"2015AMO":0.27,"2015AMR":0.28,"2015AMN":0.25,"2015AM":0.26},{"year":2012,"2015AMO":0.27,"2015AMR":0.28,"2015AMN":0.25,"2015AM":0.26},{"year":2013,"2015AMO":0.27,"2015AMR":0.28,"2015AMN":0.25,"2015AM":0.26},{"year":2014,"2015AMO":0.27,"2015AMR":0.28,"2015AMN":0.25,"2015AM":0.26},{"year":2015,"2015AMO":0.27,"2015AMR":0.28,"2015AMN":0.25,"2015AM":0.26}],
"f_mns_err":[
{"year":1980,"case":"2015AMO","lo":0.47,"hi":0.57},{"year":1981,"case":"2015AMO","lo":0.47,"hi":0.57},{"year":1982,"case":"2015AMO","lo":0.47,"hi":0.57},{"year":1983,"case":"2015AMO","lo":0.47,"hi":0.57},{"year":1984,"case":"2015AMO","lo":0.47,"hi":0.57},
{"year":1980,"case":"2015AMR","lo":0.46,"hi":0.56},{"year":1981,"case":"2015AMR","lo":0.46,"hi":0.56},{"year":1982,"case":"2015AMR","lo":0.46,"hi":0.56},{"year":1983,"case":"2015AMR","lo":0.46,"hi":0.56},{"year":1984,"case":"2015AMR","lo":0.46,"hi":0.56},
{"year":1980,"case":"2015AMN","lo":0.36,"hi":0.44},{"year":1981,"case":"2015AMN","lo":0.36,"hi":0.44},{"year":1982,"case":"2015AMN","lo":0.36,"hi":0.44},{"year":1983,"case":"2015AMN","lo":0.36,"hi":0.44},{"year":1984,"case":"2015AMN","lo":0.36,"hi":0.44},
{"year":1980,"case":"2015AM","lo":0.36,"hi":0.44},{"year":1981,"case":"2015AM","lo":0.36,"hi":0.44},{"year":1982,"case":"2015AM","lo":0.36,"hi":0.44},{"year":1983,"case":"2015AM","lo":0.36,"hi":0.44},{"year":1984,"case":"2015AM","lo":0.36,"hi":0.44}],
"f_mos_err":[
{"year":1980,"case":"2015AMO","lo":0.47,"hi":0.57},{"year":1981,"case":"2015AMO","lo":0.47,"hi":0.57},{"year":1982,"case":"2015AMO","lo":0.47,"hi":0.57},{"year":1983,"case":"2015AMO","lo":0.47,"hi":0.57},{"year":1984,"case":"2015AMO","lo":0.47,"hi":0.57},
{"year":1980,"case":"2015AMR","lo":0.46,"hi":0.56},{"year":1981,"case":"2015AMR","lo":0.46,"hi":0.56},{"year":1982,"case":"2015AMR","lo":0.46,"hi":0.56},{"year":1983,"case":"2015AMR","lo":0.46,"hi":0.56},{"year":1984,"case":"2015AMR","lo":0.46,"hi":0.56},
{"year":1980,"case":"2015AMN","lo":0.36,"hi":0.44},{"year":1981,"case":"2015AMN","lo":0.36,"hi":0.44},{"year":1982,"case":"2015AMN","lo":0.36,"hi":0.44},{"year":1983,"case":"2015AMN","lo":0.36,"hi":0.44},{"year":1984,"case":"2015AMN","lo":0.36,"hi":0.44},
{"year":1980,"case":"2015AM","lo":0.36,"hi":0.44},{"year":1981,"case":"2015AM","lo":0.36,"hi":0.44},{"year":1982,"case":"2015AM","lo":0.36,"hi":0.44},{"year":1983,"case":"2015AM","lo":0.36,"hi":0.44},{"year":1984,"case":"2015AM","lo":0.36,"hi":0.44}],
"m_mns_err":[
{"year":1980,"case":"2015AMO","lo":0.84,"hi":1.0},{"year":1981,"case":"2015AMO","lo":0.84,"hi":1.0},{"year":1982,"case":"2015AMO","lo":0.84,"hi":1.0},{"year":1983,"case":"2015AMO","lo":0.84,"hi":1.0},{"year":1984,"case":"2015AMO","lo":0.84,"hi":1.0},
{"year":1980,"case":"2015AMR","lo":0.89,"hi":1.05},{"year":1981,"case":"2015AMR","lo":0.89,"hi":1.05},{"year":1982,"case":"2015AMR","lo":0.89,"hi":1.05},{"year":1983,"case":"2015AMR","lo":0.89,"hi":1.05},{"year":1984,"case":"2015AMR","lo":0.89,"hi":1.05},
{"year":1980,"case":"2015AMN","lo":0.51,"hi":0.63},{"year":1981,"case":"2015AMN","lo":0.51,"hi":0.63},{"year":1982,"case":"2015AMN","lo":0.51,"hi":0.63},{"year":1983,"case":"2015AMN","lo":0.51,"hi":0.63},{"year":1984,"case":"2015AMN","lo":0.51,"hi":0.63},
{"year":1980,"case":"2015AM","lo":0.61,"hi":0.75},{"year":1981,"case":"2015AM","lo":0.61,"hi":0.75},{"year":1982,"case":"2015AM","lo":0.61,"hi":0.75},{"year":1983,"case":"2015AM","lo":0.61,"hi":0.75},{"year":1984,"case":"2015AM","lo":0.61,"hi":0.75}],
"m_mos_err":[
{"year":1980,"case":"2015AMO","lo":0.84,"hi":1.0},{"year":1981,"case":"2015AMO","lo":0.84,"hi":1.0},{"year":1982,"case":"2015AMO","lo":0.84,"hi":1.0},{"year":1983,"case":"2015AMO","lo":0.84,"hi":1.0},{"year":1984,"case":"2015AMO","lo":0.84,"hi":1.0},
{"year":1980,"case":"2015AMR","lo":0.89,"hi":1.05},{"year":1981,"case":"2015AMR","lo":0.89,"hi":1.05},{"year":1982,"case":"2015AMR","lo":0.89,"hi":1.05},{"year":1983,"case":"2015AMR","lo":0.89,"hi":1.05},{"year":1984,"case":"2015AMR","lo":0.89,"hi":1.05},
{"year":1980,"case":"2015AMN","lo":0.51,"hi":0.63},{"year":1981,"case":"2015AMN","lo":0.51,"hi":0.63},{"year":1982,"case":"2015AMN","lo":0.51,"hi":0.63},{"year":1983,"case":"2015AMN","lo":0.51,"hi":0.63},{"year":1984,"case":"2015AMN","lo":0.51,"hi":0.63},
{"year":1980,"case":"2015AM","lo":0.61,"hi":0.75},{"year":1981,"case":"2015AM","lo":0.61,"hi":0.75},{"year":1982,"case":"2015AM","lo":0.61,"hi":0.75},{"year":1983,"case":"2015AM","lo":0.61,"hi":0.75},{"year":1984,"case":"2015AM","lo":0.61,"hi":0.75}]
},
"columns":2,
"spacing":16.5,
"bounds":"flush",
"resolve":{"scale":{"color":"shared"},"legend":{"color":"shared"}},
"concat":[
{"width":455,"height":206,"data":{"name":"f_imm"},
 "transform":[{"fold":["2015AMO","2015AMR","2015AMN","2015AM"],"as":["case","m"]},{"calculate":"indexof(['2015AMO','2015AMR','2015AMN','2015AM'], datum.case)","as":"z"}],
 "encoding":{"color":{"field":"case","type":"nominal","scale":{"domain":["2015AMO","2015AMR","2015AMN","2015AM"],"range":["#F8766D","#7CAE00","#00BFC4","#C77CFF"]},"legend":{"title":"case","orient":"none","legendX":1076,"legendY":210,"symbolType":"M -1 0 L 1 0 M 0.29 0 A 0.29 0.29 0 1 1 -0.29 0 A 0.29 0.29 0 1 1 0.29 0","symbolSize":1764,"symbolStrokeWidth":2.5,"rowPadding":14.5,"labelOffset":15,"titlePadding":8,"padding":0,"titleFontSize":31,"titleFontWeight":"normal","titleColor":"#000000","labelFontSize":26,"labelColor":"#000000","encode":{"symbols":{"update":{"fill":{"scale":"color","field":"value"},"stroke":{"scale":"color","field":"value"}}}}}}},
 "layer":[
  {"mark":{"type":"line","strokeWidth":2.6},
   "encoding":{"x":{"field":"year","type":"quantitative","scale":{"domain":[1945.7,2018.3],"nice":false,"zero":false},"axis":{"values":[1950,1960,1970,1980,1990,2000,2010],"labels":false,"ticks":false,"title":null,"gridWidth":{"condition":{"test":"datum.value % 20 == 0","value":2.2},"value":1.1}}},
    "y":{"field":"m","type":"quantitative","scale":{"domain":[-0.0525,1.1025],"nice":false,"zero":false},"axis":{"values":[0,0.125,0.25,0.375,0.5,0.625,0.75,0.875,1],"format":".2f","labelExpr":"abs(datum.value*4 - round(datum.value*4)) < 0.001 ? datum.label : ''","tickOpacity":{"condition":{"test":"abs(datum.value*4 - round(datum.value*4)) < 0.001","value":1},"value":0},"gridWidth":{"condition":{"test":"abs(datum.value*4 - round(datum.value*4)) < 0.001","value":2.2},"value":1.1},"title":null}}}},
  {"mark":{"type":"point","filled":true,"size":130,"opacity":1},
   "encoding":{"x":{"field":"year","type":"quantitative","scale":{"domain":[1945.7,2018.3],"nice":false,"zero":false},"axis":{"orient":"top","grid":false,"labels":false,"ticks":false,"domain":true,"domainColor":"#D9D9D9","domainWidth":52,"offset":26,"title":"female","titleX":227.5,"titleY":0,"titleBaseline":"middle","titleAlign":"center","titleFontSize":26,"titleColor":"#1A1A1A"}},
    "y":{"field":"m","type":"quantitative","scale":{"domain":[-0.0525,1.1025],"nice":false,"zero":false},"axis":null},
    "order":{"field":"z","type":"quantitative"}}}
 ],
 "resolve":{"axis":{"x":"independent","y":"independent"}}
},
{"width":455,"height":206,"data":{"name":"m_imm"},
 "transform":[{"fold":["2015AMO","2015AMR","2015AMN","2015AM"],"as":["case","m"]},{"calculate":"indexof(['2015AMO','2015AMR','2015AMN','2015AM'], datum.case)","as":"z"}],
 "encoding":{"color":{"field":"case","type":"nominal","scale":{"domain":["2015AMO","2015AMR","2015AMN","2015AM"],"range":["#F8766D","#7CAE00","#00BFC4","#C77CFF"]},"legend":{"title":"case","orient":"none","legendX":1076,"legendY":210,"symbolType":"M -1 0 L 1 0 M 0.29 0 A 0.29 0.29 0 1 1 -0.29 0 A 0.29 0.29 0 1 1 0.29 0","symbolSize":1764,"symbolStrokeWidth":2.5,"rowPadding":14.5,"labelOffset":15,"titlePadding":8,"padding":0,"titleFontSize":31,"titleFontWeight":"normal","titleColor":"#000000","labelFontSize":26,"labelColor":"#000000","encode":{"symbols":{"update":{"fill":{"scale":"color","field":"value"},"stroke":{"scale":"color","field":"value"}}}}}}},
 "layer":[
  {"mark":{"type":"line","strokeWidth":2.6},
   "encoding":{"x":{"field":"year","type":"quantitative","scale":{"domain":[1945.7,2018.3],"nice":false,"zero":false},"axis":{"values":[1950,1960,1970,1980,1990,2000,2010],"labels":false,"ticks":false,"title":null,"gridWidth":{"condition":{"test":"datum.value % 20 == 0","value":2.2},"value":1.1}}},
    "y":{"field":"m","type":"quantitative","scale":{"domain":[-0.0525,1.1025],"nice":false,"zero":false},"axis":{"values":[0,0.125,0.25,0.375,0.5,0.625,0.75,0.875,1],"labels":false,"ticks":false,"gridWidth":{"condition":{"test":"abs(datum.value*4 - round(datum.value*4)) < 0.001","value":2.2},"value":1.1},"title":null}}}},
  {"mark":{"type":"point","filled":true,"size":130,"opacity":1},
   "encoding":{"x":{"field":"year","type":"quantitative","scale":{"domain":[1945.7,2018.3],"nice":false,"zero":false},"axis":{"orient":"top","grid":false,"labels":false,"ticks":false,"domain":true,"domainColor":"#D9D9D9","domainWidth":52,"offset":26,"title":"male","titleX":227.5,"titleY":0,"titleBaseline":"middle","titleAlign":"center","titleFontSize":26,"titleColor":"#1A1A1A"}},
    "y":{"field":"m","type":"quantitative","scale":{"domain":[-0.0525,1.1025],"nice":false,"zero":false},"axis":{"orient":"right","grid":false,"labels":false,"ticks":false,"domain":true,"domainColor":"#D9D9D9","domainWidth":106,"offset":53,"title":["new shell","immature"],"titleX":26,"titleY":103,"titleAngle":90,"titleBaseline":"middle","titleAlign":"center","titleLineHeight":52,"titleFontSize":26,"titleColor":"#1A1A1A"}},
    "order":{"field":"z","type":"quantitative"}}}
 ],
 "resolve":{"axis":{"x":"independent","y":"independent"}}
},
{"width":455,"height":206,"data":{"name":"f_mns"},
 "transform":[{"fold":["2015AMO","2015AMR","2015AMN","2015AM"],"as":["case","m"]},{"calculate":"indexof(['2015AMO','2015AMR','2015AMN','2015AM'], datum.case)","as":"z"}],
 "encoding":{"color":{"field":"case","type":"nominal","scale":{"domain":["2015AMO","2015AMR","2015AMN","2015AM"],"range":["#F8766D","#7CAE00","#00BFC4","#C77CFF"]},"legend":{"title":"case","orient":"none","legendX":1076,"legendY":210,"symbolType":"M -1 0 L 1 0 M 0.29 0 A 0.29 0.29 0 1 1 -0.29 0 A 0.29 0.29 0 1 1 0.29 0","symbolSize":1764,"symbolStrokeWidth":2.5,"rowPadding":14.5,"labelOffset":15,"titlePadding":8,"padding":0,"titleFontSize":31,"titleFontWeight":"normal","titleColor":"#000000","labelFontSize":26,"labelColor":"#000000","encode":{"symbols":{"update":{"fill":{"scale":"color","field":"value"},"stroke":{"scale":"color","field":"value"}}}}}}},
 "layer":[
  {"mark":{"type":"line","strokeWidth":2.6},
   "encoding":{"x":{"field":"year","type":"quantitative","scale":{"domain":[1945.7,2018.3],"nice":false,"zero":false},"axis":{"values":[1950,1960,1970,1980,1990,2000,2010],"labels":false,"ticks":false,"title":null,"gridWidth":{"condition":{"test":"datum.value % 20 == 0","value":2.2},"value":1.1}}},
    "y":{"field":"m","type":"quantitative","scale":{"domain":[-0.0525,1.1025],"nice":false,"zero":false},"axis":{"values":[0,0.125,0.25,0.375,0.5,0.625,0.75,0.875,1],"format":".2f","labelExpr":"abs(datum.value*4 - round(datum.value*4)) < 0.001 ? datum.label : ''","tickOpacity":{"condition":{"test":"abs(datum.value*4 - round(datum.value*4)) < 0.001","value":1},"value":0},"gridWidth":{"condition":{"test":"abs(datum.value*4 - round(datum.value*4)) < 0.001","value":2.2},"value":1.1},"title":"natural mortality","titlePadding":10}}}},
  {"data":{"name":"f_mns_err"},"mark":{"type":"rule","strokeWidth":2},
   "encoding":{"x":{"field":"year","type":"quantitative","scale":{"domain":[1945.7,2018.3],"nice":false,"zero":false},"axis":null},
    "y":{"field":"lo","type":"quantitative","scale":{"domain":[-0.0525,1.1025],"nice":false,"zero":false},"axis":null},"y2":{"field":"hi"}}},
  {"data":{"name":"f_mns_err"},"mark":{"type":"tick","orient":"horizontal","size":10,"thickness":2},
   "encoding":{"x":{"field":"year","type":"quantitative","scale":{"domain":[1945.7,2018.3],"nice":false,"zero":false},"axis":null},
    "y":{"field":"hi","type":"quantitative","scale":{"domain":[-0.0525,1.1025],"nice":false,"zero":false},"axis":null}}},
  {"data":{"name":"f_mns_err"},"mark":{"type":"tick","orient":"horizontal","size":10,"thickness":2},
   "encoding":{"x":{"field":"year","type":"quantitative","scale":{"domain":[1945.7,2018.3],"nice":false,"zero":false},"axis":null},
    "y":{"field":"lo","type":"quantitative","scale":{"domain":[-0.0525,1.1025],"nice":false,"zero":false},"axis":null}}},
  {"mark":{"type":"point","filled":true,"size":130,"opacity":1},
   "encoding":{"x":{"field":"year","type":"quantitative","scale":{"domain":[1945.7,2018.3],"nice":false,"zero":false},"axis":null},
    "y":{"field":"m","type":"quantitative","scale":{"domain":[-0.0525,1.1025],"nice":false,"zero":false},"axis":null},
    "order":{"field":"z","type":"quantitative"}}}
 ],
 "resolve":{"axis":{"x":"independent","y":"independent"}}
},
{"width":455,"height":206,"data":{"name":"m_mns"},
 "transform":[{"fold":["2015AMO","2015AMR","2015AMN","2015AM"],"as":["case","m"]},{"calculate":"indexof(['2015AMO','2015AMR','2015AMN','2015AM'], datum.case)","as":"z"}],
 "encoding":{"color":{"field":"case","type":"nominal","scale":{"domain":["2015AMO","2015AMR","2015AMN","2015AM"],"range":["#F8766D","#7CAE00","#00BFC4","#C77CFF"]},"legend":{"title":"case","orient":"none","legendX":1076,"legendY":210,"symbolType":"M -1 0 L 1 0 M 0.29 0 A 0.29 0.29 0 1 1 -0.29 0 A 0.29 0.29 0 1 1 0.29 0","symbolSize":1764,"symbolStrokeWidth":2.5,"rowPadding":14.5,"labelOffset":15,"titlePadding":8,"padding":0,"titleFontSize":31,"titleFontWeight":"normal","titleColor":"#000000","labelFontSize":26,"labelColor":"#000000","encode":{"symbols":{"update":{"fill":{"scale":"color","field":"value"},"stroke":{"scale":"color","field":"value"}}}}}}},
 "layer":[
  {"mark":{"type":"line","strokeWidth":2.6},
   "encoding":{"x":{"field":"year","type":"quantitative","scale":{"domain":[1945.7,2018.3],"nice":false,"zero":false},"axis":{"values":[1950,1960,1970,1980,1990,2000,2010],"labels":false,"ticks":false,"title":null,"gridWidth":{"condition":{"test":"datum.value % 20 == 0","value":2.2},"value":1.1}}},
    "y":{"field":"m","type":"quantitative","scale":{"domain":[-0.0525,1.1025],"nice":false,"zero":false},"axis":{"values":[0,0.125,0.25,0.375,0.5,0.625,0.75,0.875,1],"labels":false,"ticks":false,"gridWidth":{"condition":{"test":"abs(datum.value*4 - round(datum.value*4)) < 0.001","value":2.2},"value":1.1},"title":null}}}},
  {"data":{"name":"m_mns_err"},"mark":{"type":"rule","strokeWidth":2},
   "encoding":{"x":{"field":"year","type":"quantitative","scale":{"domain":[1945.7,2018.3],"nice":false,"zero":false},"axis":null},
    "y":{"field":"lo","type":"quantitative","scale":{"domain":[-0.0525,1.1025],"nice":false,"zero":false},"axis":null},"y2":{"field":"hi"}}},
  {"data":{"name":"m_mns_err"},"mark":{"type":"tick","orient":"horizontal","size":10,"thickness":2},
   "encoding":{"x":{"field":"year","type":"quantitative","scale":{"domain":[1945.7,2018.3],"nice":false,"zero":false},"axis":null},
    "y":{"field":"hi","type":"quantitative","scale":{"domain":[-0.0525,1.1025],"nice":false,"zero":false},"axis":null}}},
  {"data":{"name":"m_mns_err"},"mark":{"type":"tick","orient":"horizontal","size":10,"thickness":2},
   "encoding":{"x":{"field":"year","type":"quantitative","scale":{"domain":[1945.7,2018.3],"nice":false,"zero":false},"axis":null},
    "y":{"field":"lo","type":"quantitative","scale":{"domain":[-0.0525,1.1025],"nice":false,"zero":false},"axis":null}}},
  {"mark":{"type":"point","filled":true,"size":130,"opacity":1},
   "encoding":{"x":{"field":"year","type":"quantitative","scale":{"domain":[1945.7,2018.3],"nice":false,"zero":false},"axis":null},
    "y":{"field":"m","type":"quantitative","scale":{"domain":[-0.0525,1.1025],"nice":false,"zero":false},"axis":{"orient":"right","grid":false,"labels":false,"ticks":false,"domain":true,"domainColor":"#D9D9D9","domainWidth":106,"offset":53,"title":["new shell","mature"],"titleX":26,"titleY":103,"titleAngle":90,"titleBaseline":"middle","titleAlign":"center","titleLineHeight":52,"titleFontSize":26,"titleColor":"#1A1A1A"}},
    "order":{"field":"z","type":"quantitative"}}}
 ],
 "resolve":{"axis":{"x":"independent","y":"independent"}}
},
{"width":455,"height":206,"data":{"name":"f_mos"},
 "transform":[{"fold":["2015AMO","2015AMR","2015AMN","2015AM"],"as":["case","m"]},{"calculate":"indexof(['2015AMO','2015AMR','2015AMN','2015AM'], datum.case)","as":"z"}],
 "encoding":{"color":{"field":"case","type":"nominal","scale":{"domain":["2015AMO","2015AMR","2015AMN","2015AM"],"range":["#F8766D","#7CAE00","#00BFC4","#C77CFF"]},"legend":{"title":"case","orient":"none","legendX":1076,"legendY":210,"symbolType":"M -1 0 L 1 0 M 0.29 0 A 0.29 0.29 0 1 1 -0.29 0 A 0.29 0.29 0 1 1 0.29 0","symbolSize":1764,"symbolStrokeWidth":2.5,"rowPadding":14.5,"labelOffset":15,"titlePadding":8,"padding":0,"titleFontSize":31,"titleFontWeight":"normal","titleColor":"#000000","labelFontSize":26,"labelColor":"#000000","encode":{"symbols":{"update":{"fill":{"scale":"color","field":"value"},"stroke":{"scale":"color","field":"value"}}}}}}},
 "layer":[
  {"mark":{"type":"line","strokeWidth":2.6},
   "encoding":{"x":{"field":"year","type":"quantitative","scale":{"domain":[1945.7,2018.3],"nice":false,"zero":false},"axis":{"values":[1950,1960,1970,1980,1990,2000,2010],"format":"d","labelPadding":4,"labelExpr":"datum.value % 20 == 0 ? datum.label : ''","tickOpacity":{"condition":{"test":"datum.value % 20 == 0","value":1},"value":0},"gridWidth":{"condition":{"test":"datum.value % 20 == 0","value":2.2},"value":1.1},"title":"year","titleX":467,"titleY":61,"titleBaseline":"middle","titleAlign":"center"}},
    "y":{"field":"m","type":"quantitative","scale":{"domain":[-0.0525,1.1025],"nice":false,"zero":false},"axis":{"values":[0,0.125,0.25,0.375,0.5,0.625,0.75,0.875,1],"format":".2f","labelExpr":"abs(datum.value*4 - round(datum.value*4)) < 0.001 ? datum.label : ''","tickOpacity":{"condition":{"test":"abs(datum.value*4 - round(datum.value*4)) < 0.001","value":1},"value":0},"gridWidth":{"condition":{"test":"abs(datum.value*4 - round(datum.value*4)) < 0.001","value":2.2},"value":1.1},"title":null}}}},
  {"data":{"name":"f_mos_err"},"mark":{"type":"rule","strokeWidth":2},
   "encoding":{"x":{"field":"year","type":"quantitative","scale":{"domain":[1945.7,2018.3],"nice":false,"zero":false},"axis":null},
    "y":{"field":"lo","type":"quantitative","scale":{"domain":[-0.0525,1.1025],"nice":false,"zero":false},"axis":null},"y2":{"field":"hi"}}},
  {"data":{"name":"f_mos_err"},"mark":{"type":"tick","orient":"horizontal","size":10,"thickness":2},
   "encoding":{"x":{"field":"year","type":"quantitative","scale":{"domain":[1945.7,2018.3],"nice":false,"zero":false},"axis":null},
    "y":{"field":"hi","type":"quantitative","scale":{"domain":[-0.0525,1.1025],"nice":false,"zero":false},"axis":null}}},
  {"data":{"name":"f_mos_err"},"mark":{"type":"tick","orient":"horizontal","size":10,"thickness":2},
   "encoding":{"x":{"field":"year","type":"quantitative","scale":{"domain":[1945.7,2018.3],"nice":false,"zero":false},"axis":null},
    "y":{"field":"lo","type":"quantitative","scale":{"domain":[-0.0525,1.1025],"nice":false,"zero":false},"axis":null}}},
  {"mark":{"type":"point","filled":true,"size":130,"opacity":1},
   "encoding":{"x":{"field":"year","type":"quantitative","scale":{"domain":[1945.7,2018.3],"nice":false,"zero":false},"axis":null},
    "y":{"field":"m","type":"quantitative","scale":{"domain":[-0.0525,1.1025],"nice":false,"zero":false},"axis":null},
    "order":{"field":"z","type":"quantitative"}}}
 ],
 "resolve":{"axis":{"x":"independent","y":"independent"}}
},
{"width":455,"height":206,"data":{"name":"m_mos"},
 "transform":[{"fold":["2015AMO","2015AMR","2015AMN","2015AM"],"as":["case","m"]},{"calculate":"indexof(['2015AMO','2015AMR','2015AMN','2015AM'], datum.case)","as":"z"}],
 "encoding":{"color":{"field":"case","type":"nominal","scale":{"domain":["2015AMO","2015AMR","2015AMN","2015AM"],"range":["#F8766D","#7CAE00","#00BFC4","#C77CFF"]},"legend":{"title":"case","orient":"none","legendX":1076,"legendY":210,"symbolType":"M -1 0 L 1 0 M 0.29 0 A 0.29 0.29 0 1 1 -0.29 0 A 0.29 0.29 0 1 1 0.29 0","symbolSize":1764,"symbolStrokeWidth":2.5,"rowPadding":14.5,"labelOffset":15,"titlePadding":8,"padding":0,"titleFontSize":31,"titleFontWeight":"normal","titleColor":"#000000","labelFontSize":26,"labelColor":"#000000","encode":{"symbols":{"update":{"fill":{"scale":"color","field":"value"},"stroke":{"scale":"color","field":"value"}}}}}}},
 "layer":[
  {"mark":{"type":"line","strokeWidth":2.6},
   "encoding":{"x":{"field":"year","type":"quantitative","scale":{"domain":[1945.7,2018.3],"nice":false,"zero":false},"axis":{"values":[1950,1960,1970,1980,1990,2000,2010],"format":"d","labelPadding":4,"labelExpr":"datum.value % 20 == 0 ? datum.label : ''","tickOpacity":{"condition":{"test":"datum.value % 20 == 0","value":1},"value":0},"gridWidth":{"condition":{"test":"datum.value % 20 == 0","value":2.2},"value":1.1},"title":null}},
    "y":{"field":"m","type":"quantitative","scale":{"domain":[-0.0525,1.1025],"nice":false,"zero":false},"axis":{"values":[0,0.125,0.25,0.375,0.5,0.625,0.75,0.875,1],"labels":false,"ticks":false,"gridWidth":{"condition":{"test":"abs(datum.value*4 - round(datum.value*4)) < 0.001","value":2.2},"value":1.1},"title":null}}}},
  {"data":{"name":"m_mos_err"},"mark":{"type":"rule","strokeWidth":2},
   "encoding":{"x":{"field":"year","type":"quantitative","scale":{"domain":[1945.7,2018.3],"nice":false,"zero":false},"axis":null},
    "y":{"field":"lo","type":"quantitative","scale":{"domain":[-0.0525,1.1025],"nice":false,"zero":false},"axis":null},"y2":{"field":"hi"}}},
  {"data":{"name":"m_mos_err"},"mark":{"type":"tick","orient":"horizontal","size":10,"thickness":2},
   "encoding":{"x":{"field":"year","type":"quantitative","scale":{"domain":[1945.7,2018.3],"nice":false,"zero":false},"axis":null},
    "y":{"field":"hi","type":"quantitative","scale":{"domain":[-0.0525,1.1025],"nice":false,"zero":false},"axis":null}}},
  {"data":{"name":"m_mos_err"},"mark":{"type":"tick","orient":"horizontal","size":10,"thickness":2},
   "encoding":{"x":{"field":"year","type":"quantitative","scale":{"domain":[1945.7,2018.3],"nice":false,"zero":false},"axis":null},
    "y":{"field":"lo","type":"quantitative","scale":{"domain":[-0.0525,1.1025],"nice":false,"zero":false},"axis":null}}},
  {"mark":{"type":"point","filled":true,"size":130,"opacity":1},
   "encoding":{"x":{"field":"year","type":"quantitative","scale":{"domain":[1945.7,2018.3],"nice":false,"zero":false},"axis":null},
    "y":{"field":"m","type":"quantitative","scale":{"domain":[-0.0525,1.1025],"nice":false,"zero":false},"axis":{"orient":"right","grid":false,"labels":false,"ticks":false,"domain":true,"domainColor":"#D9D9D9","domainWidth":106,"offset":53,"title":["old shell","mature"],"titleX":26,"titleY":103,"titleAngle":90,"titleBaseline":"middle","titleAlign":"center","titleLineHeight":52,"titleFontSize":26,"titleColor":"#1A1A1A"}},
    "order":{"field":"z","type":"quantitative"}}}
 ],
 "resolve":{"axis":{"x":"independent","y":"independent"}}
}
],
"config":{
 "font":"Liberation Sans",
 "view":{"fill":"#EBEBEB","stroke":null},
 "axis":{"labelFont":"Liberation Sans","labelFontSize":26,"labelColor":"#4D4D4D","tickColor":"#333333","tickSize":7,"tickWidth":2.5,"labelPadding":7,"gridColor":"#FFFFFF","domain":false,"titleFont":"Liberation Sans","titleFontSize":31,"titleFontWeight":"normal","titleColor":"#000000","labelOverlap":false,"labelFlush":false,"labelBound":false},
 "legend":{"labelFont":"Liberation Sans","titleFont":"Liberation Sans"}
}
}
